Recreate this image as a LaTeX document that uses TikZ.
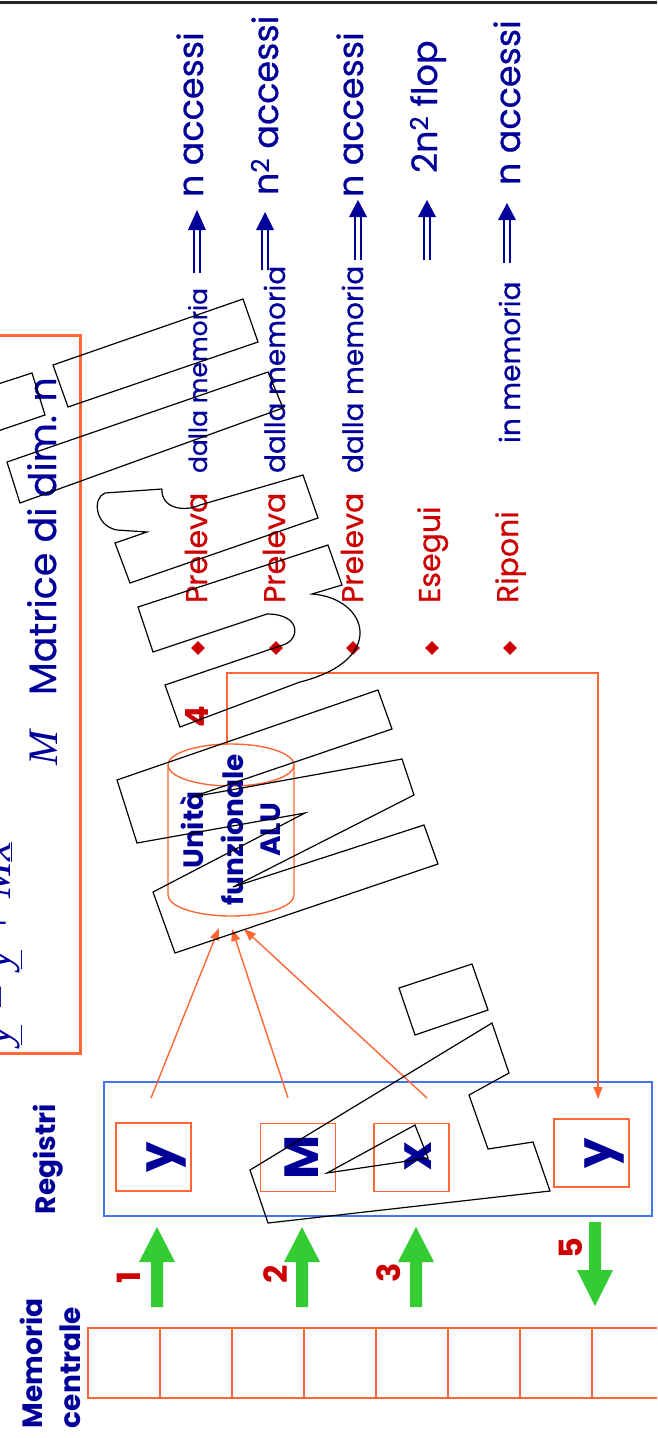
\documentclass[tikz,border=0pt]{standalone}
\usepackage{fontspec}
\setmainfont{Poppins}[UprightFeatures={FakeBold=0.6}]
\newfontfamily\formulafont{Liberation Serif}
\usetikzlibrary{arrows.meta,shapes.geometric}
\definecolor{navy}{RGB}{0,0,153}
\definecolor{slred}{RGB}{204,0,0}
\definecolor{slorange}{RGB}{255,102,51}
\definecolor{slgreen}{RGB}{51,204,51}
\definecolor{slblue}{RGB}{68,114,240}
\newcommand{\fsz}[1]{\fontsize{#1}{#1}\selectfont}
% double-shafted "implies" arrow: x, shaft start, head base, tip
\newcommand{\dblarr}[4]{%
  \draw[navy,line width=1.5pt] (#1-3,#2) -- (#1-3,#3) (#1+3,#2) -- (#1+3,#3);
  \fill[navy] (#1-9,#3) -- (#1+9,#3) -- (#1,#4) -- cycle;}
% green block arrow pointing up, centred on x
\newcommand{\gup}[1]{%
  \fill[slgreen] (#1-6,1307) -- (#1-6,1262) -- (#1-18,1262) -- (#1,1227)
    -- (#1+18,1262) -- (#1+6,1262) -- (#1+6,1307) -- cycle;}
\begin{document}
\begin{tikzpicture}[x=1pt,y=-1pt,
  vtext/.style={rotate=90,anchor=base west,inner sep=0pt,outer sep=0pt},
  vmid/.style={rotate=90,anchor=base,inner sep=0pt,outer sep=0pt},
  redword/.style={vtext,text=slred,font=\fsz{30}},
  blueword/.style={vtext,text=navy,font=\fsz{28}},
  result/.style={vtext,text=navy,font=\fsz{35}},
  boldlbl/.style={text=navy,font=\bfseries\fsz{28}},
  stepno/.style={vmid,text=slred,font=\bfseries\fsz{32}},
  regletter/.style={vmid,text=navy,font=\bfseries\fsz{48}},
  bulletmark/.style={diamond,fill=slred,inner sep=0pt,minimum size=14pt},
  outline/.style={draw=black,line width=1.2pt,line join=miter},
  oline/.style={draw=slorange,line width=1.4pt},
  otip/.style={-{Triangle[length=12pt,width=9pt]}},
  memcell/.style={draw=slorange,line width=2pt,minimum width=72pt,minimum height=70pt,inner sep=0pt,outer sep=0pt},
  regcell/.style={draw=slorange,line width=1.5pt,minimum width=75pt,minimum height=68pt,inner sep=0pt,outer sep=0pt},
]
\useasboundingbox (0,0) rectangle (657,1438);
\clip (0,0) rectangle (657,1438);

% top rule
\draw[black!85,line width=2.5pt] (0,2.5) -- (657,2.5);

% ---------- list of operations ----------
\foreach \bx/\nm in {198/b1,276/b2,353/b3,432/b4,510/b5}
  \node[bulletmark] (\nm) at (\bx,648) {};

\node[redword] (op1) at (207,603) {Preleva};
\node[redword] (op2) at (285,603) {Preleva};
\node[redword] (op3) at (363,603) {Preleva};
\node[redword] (op4) at (440,603) {Esegui};
\node[redword] (op5) at (518,603) {Riponi};

\node[blueword,font=\fsz{25}] (src1) at (207,473) {dalla memoria};
\node[blueword] (src2) at (285,473) {dalla memoria};
\node[blueword] (src3) at (363,473) {dalla memoria};
\node[blueword] (src5) at (520,443) {in memoria};

\dblarr{197}{273}{230}{210}
\dblarr{265}{270}{230}{212}
\dblarr{358}{260}{217}{200}
\dblarr{427}{260}{217}{200}
\dblarr{507}{263}{220}{203}

\node[result] (cost1) at (203,197) {n accessi};
\node[result] (cost2) at (278,195) {n\textsuperscript{2} accessi};
\node[result] (cost3) at (363,197) {n accessi};
\node[result] (cost4) at (437,173) {2n\textsuperscript{2} flop};
\node[result] (cost5) at (520,185) {n accessi};

% ---------- formula box ----------
\node[draw=slorange,line width=3pt,minimum width=100pt,minimum height=718pt,inner sep=0pt] (fbox) at (30,694) {};
\node[vtext,text=navy,font=\formulafont\itshape\fsz{44}] (formula) at (10,1045)
  {\underline{y}\hspace{0.3em}=\hspace{0.3em}\underline{y}\hspace{0.25em}+\hspace{0.25em}M\underline{x}};
\node[vmid,text=navy,font=\formulafont\itshape\fsz{42}] (msym) at (57,748) {M};
\node[vtext,text=navy,font=\fsz{38}] (mdesc) at (56,695) {Matrice di dim. n};

% ---------- ALU cylinder ----------
\draw[slorange,line width=1.4pt] (231,765) ellipse [x radius=63, y radius=21];
\draw[slorange,line width=1.4pt] (168,765) -- (168,895)
  arc[start angle=180, end angle=0, x radius=63, y radius=21] -- (294,765);
\node[boldlbl,vmid] (alu1) at (203,830) {Unità};
\node[boldlbl,vmid] (alu2) at (243,830) {funzionale};
\node[boldlbl,vmid] (alu3) at (280,830) {ALU};

% ---------- registers ----------
\node[draw=slblue,line width=1.5pt,minimum width=548pt,minimum height=134pt,inner sep=0pt] (reg) at (378,1149) {};
\node[boldlbl,vmid] (reglbl) at (55,1159) {Registri};
\node[regcell] (ry1) at (153.5,1157) {};
\node[regcell] (rm)  at (298,1157.5) {};
\node[regcell] (rx)  at (411.5,1157.5) {};
\node[regcell] (ry2) at (591.5,1153) {};
\node[regletter] (ly1) at (173,1157) {y};
\node[regletter] (lm)  at (318,1157) {M};
\node[regletter] (lx)  at (431,1156) {x};
\node[regletter] (ly2) at (611,1153) {y};

% ---------- main memory ----------
\foreach \i in {0,...,8}
  \node[memcell] (m\i) at (124+72*\i,1363) {};
\node[boldlbl,vtext] (memA) at (42,1428) {Memoria};
\node[boldlbl,vtext] (memB) at (80,1428) {centrale};

% ---------- transfers ----------
\gup{157} \gup{302} \gup{416}
\fill[slgreen] (589,1222) -- (601,1222) -- (601,1270) -- (613,1270) -- (595,1306)
  -- (577,1270) -- (589,1270) -- cycle;
\node[stepno] (s1) at (140,1277) {1};
\node[stepno] (s2) at (287,1274) {2};
\node[stepno] (s3) at (400,1273) {3};
\node[stepno] (s4) at (208,717) {4};
\node[stepno] (s5) at (582,1248) {5};

\coordinate (fy) at (151,1098);
\coordinate (fm) at (288,1098);
\coordinate (fx) at (427,1098);
\coordinate (in1) at (219,928);
\coordinate (in2) at (232,929);
\coordinate (in3) at (244,929);
\draw[oline,otip] (fy) -- (in1);
\draw[oline,otip] (fm) -- (in2);
\draw[oline,otip] (fx) -- (in3);

\coordinate (aluout) at (227,744);
\coordinate (k1) at (227,673);
\coordinate (k2) at (598,673);
\coordinate (y2in) at (598,1099);
\draw[oline,otip] (aluout) -- (k1) -- (k2) -- (y2in);

% ---------- large letter outlines ----------
\draw[outline] (-5,385) -- (32,373) -- (45,415) -- (-5,432);
\draw[outline] (53,365) -- (243,299) -- (258,342) -- (68,407) -- cycle;
\draw[outline] (7,462) -- (268,372) -- (283,408) -- (20,503) -- cycle;
\draw[outline] (162,489) -- (105,493) .. controls (92,498) and (95,526) .. (117,530)
  -- (147,532) -- (115,543) -- (130,583) -- (318,518) -- (303,475) -- (200,505)
  .. controls (185,512) and (161,509) .. (162,489);
\draw[outline] (138,607) -- (328,545) -- (342,585) -- (312,594)
  .. controls (368,598) and (388,660) .. (300,682) -- (180,727) -- (165,685) -- (283,645)
  .. controls (300,640) and (302,614) .. (267,614) -- (153,652) -- cycle;
\draw[outline] (117,780) -- (378,690) -- (392,729) -- (192,797) -- (402,759) -- (414,795)
  -- (233,887) -- (424,825) -- (438,864) -- (175,953) -- (153,892) -- (305,813)
  -- (137,843) -- cycle;
\draw[outline] (399,988) -- (472,964) -- (488,1010) -- (415,1035) -- cycle;
\draw[outline] (250,1170) -- (492,1023) -- (509,1073) -- (469,1095) -- (488,1149)
  -- (533,1142) -- (550,1191) -- (268,1223) -- cycle;
\draw[outline] (327,1173) -- (415,1125) -- (428,1158) -- cycle;
\end{tikzpicture}
\end{document}
